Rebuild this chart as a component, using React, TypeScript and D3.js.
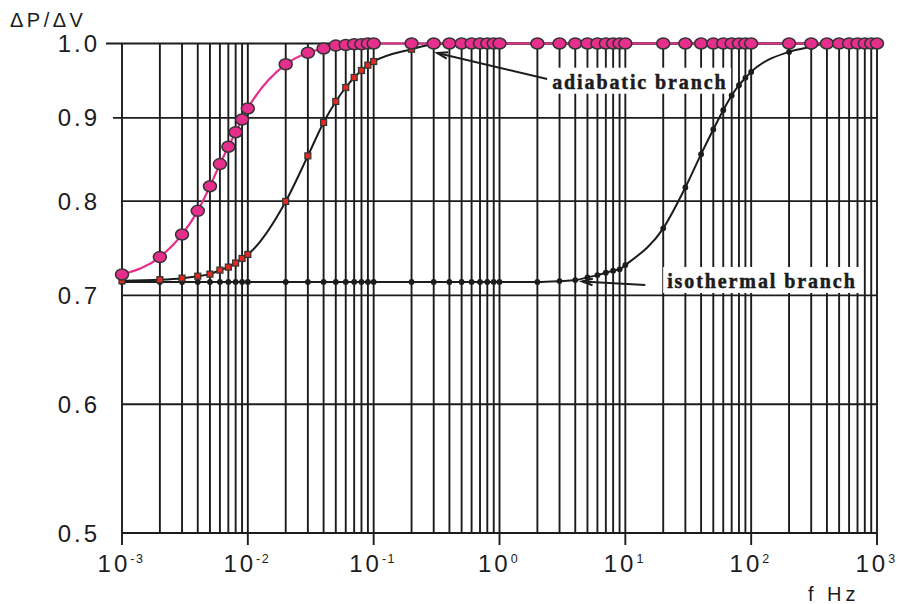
import * as d3 from 'd3';

// frequency grid of the measurements (Hz)
const freqs = [
  0.001, 0.002, 0.003, 0.004, 0.005, 0.006, 0.007, 0.008, 0.009,
  0.01, 0.02, 0.03, 0.04, 0.05, 0.06, 0.07, 0.08, 0.09,
  0.1, 0.2, 0.3, 0.4, 0.5, 0.6, 0.7, 0.8, 0.9,
  1, 2, 3, 4, 5, 6, 7, 8, 9,
  10, 20, 30, 40, 50, 60, 70, 80, 90,
  100, 200, 300, 400, 500, 600, 700, 800, 900,
  1000,
];

// pink circles
const fastSeries = [
  0.721, 0.739, 0.763, 0.789, 0.817, 0.843, 0.864, 0.882, 0.898,
  0.912, 0.971, 0.987, 0.993, 0.997, 0.998, 0.999, 0.999, 1.0,
  1, 1, 1, 1, 1, 1, 1, 1, 1,
  1, 1, 1, 1, 1, 1, 1, 1, 1,
  1, 1, 1, 1, 1, 1, 1, 1, 1,
  1, 1, 1, 1, 1, 1, 1, 1, 1,
  1,
];

// red squares
const midSeries = [
  0.7146, 0.7157, 0.7173, 0.7193, 0.7214, 0.7255, 0.7286, 0.7328, 0.7376,
  0.7418, 0.7996, 0.8529, 0.8942, 0.9212, 0.9396, 0.953, 0.9625, 0.9698,
  0.9748, 0.992, 0.999, 1, 1, 1, 1, 1, 1,
  1, 1, 1, 1, 1, 1, 1, 1, 1,
  1, 1, 1, 1, 1, 1, 1, 1, 1,
  1, 1, 1, 1, 1, 1, 1, 1, 1,
  1,
];

// black dots
const slowSeries = [
  0.7135, 0.7135, 0.7135, 0.7135, 0.7135, 0.7135, 0.7135, 0.7135, 0.7135,
  0.7135, 0.7135, 0.7135, 0.7135, 0.7135, 0.7135, 0.7135, 0.7135, 0.7135,
  0.7135, 0.7135, 0.7135, 0.7135, 0.7135, 0.7135, 0.7135, 0.7135, 0.7135,
  0.7135, 0.7135, 0.7143, 0.7153, 0.7181, 0.7204, 0.7228, 0.7249, 0.7263,
  0.7307, 0.7697, 0.8156, 0.855, 0.8854, 0.9099, 0.929, 0.9427, 0.9525,
  0.9606, 0.9882, 0.9952, 1, 1, 1, 1, 1, 1,
  1,
];

const decadeTicks = [0.001, 0.01, 0.1, 1, 10, 100, 1000];
const decadeExps = ['-3', '-2', '-1', '0', '1', '2', '3'];
const yTicks = [0.5, 0.6, 0.7, 0.8, 0.9, 1.0];
const yTickLabels = ['0.5', '0.6', '0.7', '0.8', '0.9', '1.0'];

// annotations, anchored in data space: [f, value]
const notes = [
  { text: 'adiabatic branch', at: [2.62, 0.938], tail: [2.39, 0.951], tip: [0.32, 0.9866], boxW: 183 },
  { text: 'isothermal branch', at: [21.5, 0.7074], tail: [14.4, 0.7104], tip: [4.54, 0.714], boxW: 199 },
];

const W = 898;
const H = 604;
const INK = '#1c1c1c';
const PINK = '#e62e8c';
const RED = '#e2281f';
const SANS = "'Liberation Sans', Arial, sans-serif";
const SERIF = "'Liberation Serif', 'Times New Roman', serif";

export default function App() {
  const x = d3.scaleLog().domain([0.001, 1000]).range([122, 877]);
  const y = d3.scaleLog().domain([0.5, 1]).range([533, 43.5]);

  const grid = x.ticks();
  const line = d3
    .line<number>()
    .x((_, i) => x(freqs[i]))
    .y((d) => y(d))
    .curve(d3.curveMonotoneX);

  const arrowHead = (tail: number[], tip: number[]) => {
    const tx = x(tip[0]);
    const ty = y(tip[1]);
    const a = Math.atan2(y(tail[1]) - ty, x(tail[0]) - tx);
    const len = 11;
    const spread = 0.3;
    return `M${tx + len * Math.cos(a + spread)},${ty + len * Math.sin(a + spread)}L${tx},${ty}L${tx + len * Math.cos(a - spread)},${ty + len * Math.sin(a - spread)}`;
  };

  return (
    <svg width={W} height={H} style={{ position: 'absolute', left: 0, top: 0, background: '#fff' }}>
      {/* vertical grid */}
      <g stroke={INK} strokeWidth={1.9}>
        {grid.map((f, i) => (
          <line key={'v' + i} x1={x(f)} x2={x(f)} y1={y(1)} y2={y(0.5)} />
        ))}
        {decadeTicks.map((f, i) => (
          <line key={'dt' + i} x1={x(f)} x2={x(f)} y1={y(0.5)} y2={y(0.5) + 12} />
        ))}
        {/* horizontal grid */}
        {yTicks.map((v, i) => (
          <line
            key={'h' + i}
            x1={v === 1 ? 106 : v === 0.9 ? 113 : x(0.001)}
            x2={x(1000)}
            y1={y(v)}
            y2={y(v)}
          />
        ))}
      </g>

      {/* y tick labels */}
      {yTicks.map((v, i) => (
        <text
          key={'yl' + i}
          x={100}
          y={y(v) + 8.5}
          textAnchor="end"
          fontFamily={SANS}
          fontSize={24}
          letterSpacing={3}
          fill={INK}
        >
          {yTickLabels[i]}
        </text>
      ))}

      {/* x tick labels */}
      {decadeTicks.map((f, i) => (
        <text key={'xl' + i} x={x(f) - 1} y={572} textAnchor="middle" fontFamily={SANS} fontSize={24} letterSpacing={3} fill={INK}>
          10
          <tspan dy={-9} fontSize={12.5} letterSpacing={1.5}>
            {decadeExps[i]}
          </tspan>
        </text>
      ))}

      <text x={10} y={27} fontFamily={SANS} fontSize={20} letterSpacing={3.5} fill={INK}>
        ΔP/ΔV
      </text>
      <text x={808} y={601} fontFamily={SANS} fontSize={20} letterSpacing={4} fill={INK}>
        f Hz
      </text>

      {/* annotation boxes, labels and arrows */}
      {notes.map((n, i) => {
        const bx = x(n.at[0]);
        const by = y(n.at[1]);
        return (
          <g key={'n' + i}>
            <rect x={bx - 4} y={by - 21} width={n.boxW} height={26} fill="#fff" />
            <text
              x={bx}
              y={by}
              fontFamily={SERIF}
              fontWeight="bold"
              fontSize={20}
              letterSpacing={1.9}
              fill={INK}
              stroke={INK}
              strokeWidth={0.5}
            >
              {n.text}
            </text>
            <line x1={x(n.tail[0])} y1={y(n.tail[1])} x2={x(n.tip[0])} y2={y(n.tip[1])} stroke={INK} strokeWidth={2} />
            <path d={arrowHead(n.tail, n.tip)} fill="none" stroke={INK} strokeWidth={2} />
          </g>
        );
      })}

      {/* isothermal-to-adiabatic slow series */}
      <path d={line(slowSeries) || ''} fill="none" stroke={INK} strokeWidth={2} />
      {slowSeries.map((v, i) => (
        <circle key={'s' + i} cx={x(freqs[i])} cy={y(v)} r={2.9} fill={INK} />
      ))}

      {/* intermediate series */}
      <path d={line(midSeries) || ''} fill="none" stroke={INK} strokeWidth={2} />
      {midSeries.map((v, i) => (
        <rect
          key={'m' + i}
          x={x(freqs[i]) - 3}
          y={y(v) - 3}
          width={6}
          height={6}
          fill={RED}
          stroke="#333"
          strokeWidth={1.2}
        />
      ))}

      {/* fast series */}
      <path d={line(fastSeries) || ''} fill="none" stroke={PINK} strokeWidth={2.2} />
      {fastSeries.map((v, i) => (
        <ellipse key={'f' + i} cx={x(freqs[i])} cy={y(v)} rx={6.5} ry={5.5} fill={PINK} stroke="#333" strokeWidth={1.5} />
      ))}
    </svg>
  );
}
